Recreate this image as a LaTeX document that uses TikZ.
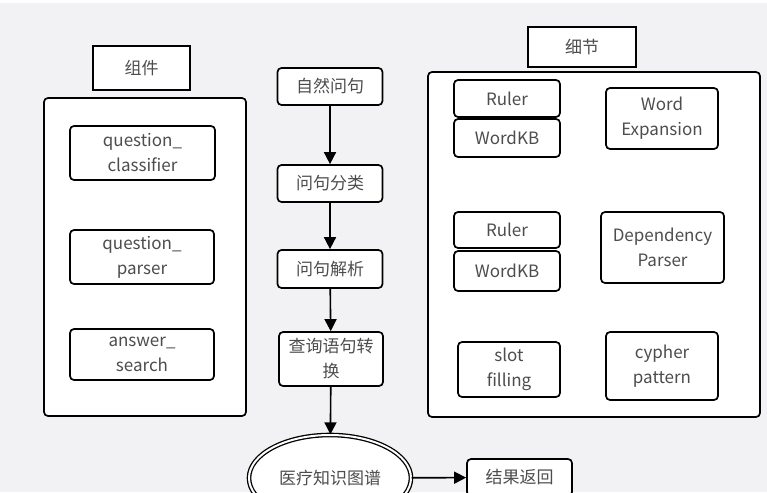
\documentclass[tikz,border=0pt]{standalone}
\usepackage{fontspec}
\setmainfont{Noto Sans CJK SC}
\usetikzlibrary{shapes.geometric,arrows.meta}
\definecolor{bgc}{HTML}{F2F2F4}
\definecolor{txt}{HTML}{4D4D4D}
\tikzset{
  box/.style={draw=black, fill=white, line width=1.7pt, rounded corners=4pt, inner sep=0pt, align=center, text=txt, font=\fontsize{17}{25}\selectfont},
  sqbox/.style={box, rounded corners=0pt, line width=2pt},
  cont/.style={draw=black, fill=white, line width=1.7pt, rounded corners=4pt, inner sep=0pt},
  arr/.style={line width=1.6pt, -{Triangle[length=12pt,width=12pt]}},
}
\begin{document}
\begin{tikzpicture}[x=1pt,y=-1pt]
\useasboundingbox (0,0) rectangle (767,492);
\clip (0,0) rectangle (767,492);
\fill[bgc] (0,0) rectangle (767,492);
\fill[white] (0,0) rectangle (767,3);
% left
\node[sqbox, minimum width=97, minimum height=44] (zj) at (141.5,68) {组件};
\node[cont, minimum width=202, minimum height=318] (lc) at (145,257) {};
\node[box, minimum width=145, minimum height=54] (qc) at (142.5,153) {question\_\\classifier};
\node[box, minimum width=144, minimum height=54] (qp) at (142,257) {question\_\\parser};
\node[box, minimum width=144, minimum height=51] (as) at (142,354.5) {answer\_\\search};
% middle
\node[box, minimum width=105, minimum height=37] (n1) at (330,86.5) {自然问句};
\node[box, minimum width=105, minimum height=37] (n2) at (330,183.5) {问句分类};
\node[box, minimum width=105, minimum height=38] (n3) at (330,269) {问句解析};
\node[box, minimum width=104, minimum height=54] (n4) at (331,359) {查询语句转\\换};
\node[ellipse, draw=black, double=white, double distance=2pt, line width=1.3pt, fill=white, minimum width=162, minimum height=86, text=txt, font=\fontsize{17}{25}\selectfont] (kg) at (330,478) {医疗知识图谱};
\node[box, minimum width=105, minimum height=37] (res) at (519.5,477.5) {结果返回};
\draw[arr] (n1) -- (n2);
\draw[arr] (n2) -- (n3);
\draw[arr] (n3) -- (n4);
\draw[arr] (n4) -- (kg);
\draw[arr] (kg) -- (res);
% right
\node[sqbox, minimum width=108, minimum height=40] (xj) at (582,47) {细节};
\node[cont, minimum width=332, minimum height=345] (rc) at (594,244.5) {};
\node[box, minimum width=106, minimum height=37] (r1) at (507,98.5) {Ruler};
\node[box, minimum width=106, minimum height=38] (w1) at (507,138) {WordKB};
\node[box, minimum width=112, minimum height=61] (we) at (662,118.5) {Word\\Expansion};
\node[box, minimum width=106, minimum height=36] (r2) at (507,230) {Ruler};
\node[box, minimum width=106, minimum height=40] (w2) at (507,271) {WordKB};
\node[box, minimum width=123, minimum height=71] (dp) at (662.5,247.5) {Dependency\\Parser};
\node[box, minimum width=102, minimum height=55] (sf) at (509,369.5) {slot\\filling};
\node[box, minimum width=112, minimum height=68] (cp) at (662,366) {cypher\\pattern};
\end{tikzpicture}
\end{document}
